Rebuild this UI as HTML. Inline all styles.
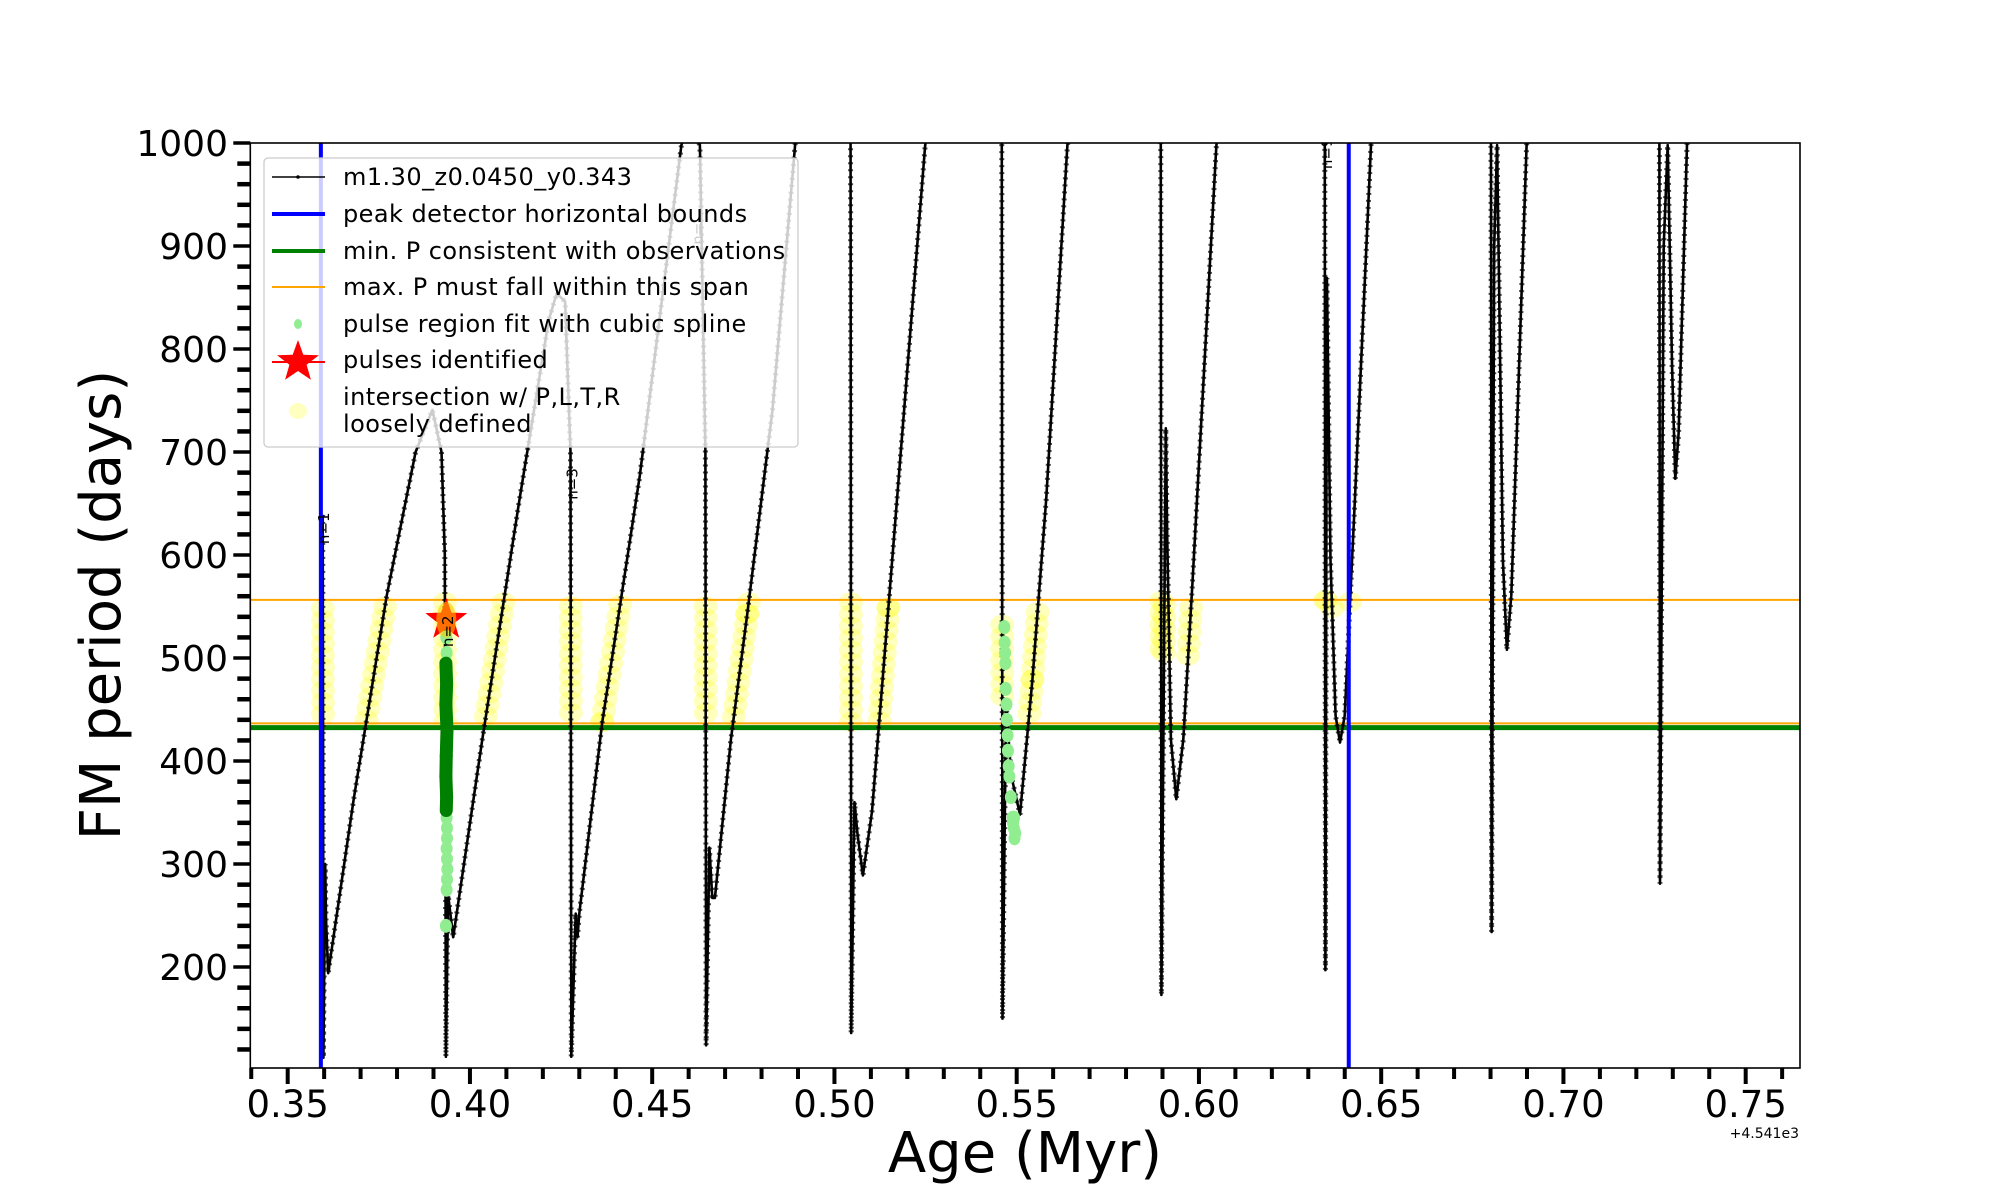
<!DOCTYPE html>
<html><head><meta charset="utf-8"><style>
html,body{margin:0;padding:0;background:#fff;}
svg{display:block;font-family:"DejaVu Sans","Liberation Sans",sans-serif;}
</style></head><body>
<svg id="chart" width="2000" height="1200" viewBox="0 0 2000 1200" xmlns="http://www.w3.org/2000/svg">
<defs><clipPath id="plotclip"><rect x="250" y="143" width="1550" height="925"/></clipPath></defs>
<rect x="0" y="0" width="2000" height="1200" fill="#fff"/>
<g id="plot" clip-path="url(#plotclip)"></g>
<g id="axes"></g>
<g id="legend"></g>
</svg>
<script>
const curveAge = [0.3596,0.3597,0.3598,0.3603,0.3605,0.3611,0.3681,0.3772,0.3851,0.3897,0.3922,0.3931,0.3934,
0.3940,0.3954,0.4034,0.4136,0.4216,0.4238,0.4261,0.4276,0.4278,
0.4290,0.4295,0.4300,0.4363,0.4466,0.4580,0.4600,0.4631,0.4646,0.4648,
0.4657,0.4665,0.4672,0.4716,0.4761,0.4830,0.4892,0.4920,0.5044,0.5046,
0.5055,0.5063,0.5078,0.5103,0.5148,0.5249,0.5300,0.5459,0.5461,
0.5471,0.5485,0.5509,0.5543,0.5581,0.5639,0.5700,0.5895,0.5897,
0.5909,0.5913,0.5923,0.5938,0.5957,0.5982,0.6048,0.6100,0.6345,0.6347,
0.6351,0.6361,0.6375,0.6387,0.6400,0.6428,0.6472,0.6500,0.6801,0.6803,
0.6810,0.6818,0.6834,0.6845,0.6857,0.6899,0.6950,0.7263,0.7265,
0.7275,0.7286,0.7298,0.7307,0.7316,0.7339,0.7360];
const curvePeriod = [639,400,112,300,247,194,363,561,700,741,700,601,113,
270,229,421,654,828,854,846,700,113,
252,229,252,438,677,998,1020,998,700,124,
316,267,267,421,543,741,998,1100,1100,136,
360,330,289,351,549,998,1100,1100,150,
456,386,348,479,654,998,1100,1100,173,
723,619,421,363,421,572,998,1100,1100,197,
869,595,444,418,444,654,998,1100,1100,234,
900,998,595,508,561,998,1100,1100,281,
900,998,782,674,718,998,1100];
const blobAgeLo = [0.355,0.3925,0.427,0.463,0.503,0.545,0.552,0.589,0.596,0.634];
const blobAgeHi = [0.380,0.410,0.442,0.478,0.517,0.5475,0.557,0.5915,0.600,0.642];
const blobPLo = [437,437,437,437,437,460,440,500,495,545];
const blobPHi = [557,557,557,557,557,540,555,557,557,557];
const blueBounds = [0.3591,0.6411];
const orangeSpan = [556.5,436.6];
const minP = [432.5];
const darkGreenAge = [0.3934,0.3936,0.3934,0.3937,0.3935,0.3934,0.3936,0.3935];
const darkGreenP = [495,475,455,430,405,385,365,352];
const lightGreenAge = [0.3935,0.3936,0.3936,0.3937,0.3937,0.3936,0.3937,0.3938,0.3937,0.3936,0.3934,0.5466,0.5467,0.5468,0.5469,0.5470,0.5472,0.5473,0.5475,0.5476,0.5478,0.5480,0.5484,0.5489,0.5492,0.5494,0.5496,0.5493,0.5490];
const lightGreenP = [520,505,345,335,325,315,305,295,285,275,240,530,515,505,495,470,455,440,425,410,395,385,365,345,335,325,330,345,340];
const starAge = [0.3935];
const starP = [537];
const nLabels = ['n=1','n=2','n=3','n=','n=9'];
const nLabelAge = [0.3613,0.3954,0.4295,0.4640,0.6365];
const nLabelP = [626,526,669,912,990];
const xTicks = [0.35,0.40,0.45,0.50,0.55,0.60,0.65,0.70,0.75];
const xTickLabels = ['0.35','0.40','0.45','0.50','0.55','0.60','0.65','0.70','0.75'];
const yTicks = [200,300,400,500,600,700,800,900,1000];
const yTickLabels = ['200','300','400','500','600','700','800','900','1000'];

const X0=250.3,X1=1800,Y0=143,Y1=1068;
const xmin=0.33974,xmax=0.7649,ymin=102,ymax=1000;
const xs=v=>X0+(v-xmin)/(xmax-xmin)*(X1-X0);
const ys=v=>Y1-(v-ymin)/(ymax-ymin)*(Y1-Y0);
const NS='http://www.w3.org/2000/svg';
function mk(tag,attrs,parent){const e=document.createElementNS(NS,tag);for(const k in attrs)e.setAttribute(k,attrs[k]);parent.appendChild(e);return e;}
const plot=document.getElementById('plot'),axes=document.getElementById('axes'),leg=document.getElementById('legend');

const yb=mk('g',{},plot);


for(let i=0;i<curveAge.length-1;i++){
  const a0=curveAge[i],a1=curveAge[i+1],p0=curvePeriod[i],p1=curvePeriod[i+1];
  const ax=xs(a0),ay=ys(p0),bx=xs(a1),by=ys(p1);
  const len=Math.hypot(bx-ax,by-ay),n=Math.max(1,Math.ceil(len/12));
  for(let k=0;k<=n;k++){const t=k/n,ag=a0+(a1-a0)*t,pp=p0+(p1-p0)*t;
    for(let r=0;r<blobAgeLo.length;r++){
      if(ag>=blobAgeLo[r]&&ag<=blobAgeHi[r]&&pp>=blobPLo[r]&&pp<=blobPHi[r]){
        const c=mk('ellipse',{cx:xs(ag),cy:ys(pp),rx:12,ry:10,fill:'rgba(255,255,40,0.3)'},yb);
        
        
        break;
      }}
  }
}
orangeSpan.forEach(v=>{const l=mk('line',{x1:X0,x2:X1,y1:ys(v),y2:ys(v),stroke:'#ffa500','stroke-width':2},plot);

});
minP.forEach(v=>{const l=mk('line',{x1:X0,x2:X1,y1:ys(v),y2:ys(v),stroke:'#008000','stroke-width':5},plot);

});
let d='';curveAge.forEach((a,i)=>{d+=(i?'L':'M')+xs(a).toFixed(1)+','+ys(curvePeriod[i]).toFixed(1);});
const cv=mk('path',{d:d,fill:'none',stroke:'#000','stroke-width':2.6,'stroke-linejoin':'round'},plot);


const cvd=mk('path',{d:d,fill:'none',stroke:'#000','stroke-width':5,'stroke-dasharray':'2 5',opacity:0.7},plot);


blueBounds.forEach(v=>{const l=mk('line',{x1:xs(v),x2:xs(v),y1:Y0,y2:Y1,stroke:'#0000ff','stroke-width':4},plot);

});
lightGreenAge.forEach((a,i)=>{const c=mk('ellipse',{cx:xs(a),cy:ys(lightGreenP[i]),rx:6,ry:7,fill:'#90ee90'},plot);

});
for(let i=0;i<darkGreenAge.length-1;i++){
  const l=mk('line',{x1:xs(darkGreenAge[i]),y1:ys(darkGreenP[i]),x2:xs(darkGreenAge[i+1]),y2:ys(darkGreenP[i+1]),stroke:'#008000','stroke-width':13,'stroke-linecap':'round'},plot);
  
  
}
function starPts(cx,cy,R,r){let p=[];for(let i=0;i<10;i++){const a=-Math.PI/2+i*Math.PI/5,rr=i%2?r:R;p.push((cx+rr*Math.cos(a)).toFixed(1)+','+(cy+rr*Math.sin(a)).toFixed(1));}return p.join(' ');}
starAge.forEach((a,i)=>{const s=mk('polygon',{points:starPts(xs(a),ys(starP[i]),22,9),fill:'#ff0000'},plot);


const o=mk('ellipse',{cx:xs(a),cy:ys(starP[i]),rx:10,ry:18,fill:'rgba(255,200,0,0.55)'},plot);

});
nLabels.forEach((t,i)=>{const x=xs(nLabelAge[i]),y=ys(nLabelP[i]);
const e=mk('text',{x:x,y:y,'font-size':15,fill:'#000','text-anchor':'middle',transform:`rotate(-90 ${x} ${y})`},plot);e.textContent=t;

});

const fr=mk('rect',{x:X0,y:Y0,width:X1-X0,height:Y1-Y0,fill:'none',stroke:'#000','stroke-width':1.6},axes);


for(let m=34;m<=76;m++){const v=m/100;if(v<xmin||v>xmax)continue;const major=m%5===0;
 const t=mk('line',{x1:xs(v),x2:xs(v),y1:Y1,y2:Y1+(major?16:11),stroke:'#000','stroke-width':4},axes);
 
 }
xTicks.forEach((v,i)=>{const e=mk('text',{x:xs(v),y:1117,'font-size':37,'text-anchor':'middle',fill:'#000'},axes);e.textContent=xTickLabels[i];

});
for(let v=120;v<=1000;v+=20){const major=v%100===0;
 const t=mk('line',{x1:X0,x2:X0-(major?17:13),y1:ys(v),y2:ys(v),stroke:'#000','stroke-width':major?3.5:4.5},axes);
 
 }
yTicks.forEach((v,i)=>{const e=mk('text',{x:228,y:ys(v)+13,'font-size':36,'text-anchor':'end',fill:'#000'},axes);e.textContent=yTickLabels[i];

});
const off=mk('text',{x:1799,y:1138,'font-size':14,'text-anchor':'end',fill:'#000'},axes);off.textContent='+4.541e3';


const xl=mk('text',{x:1025,y:1172,'font-size':56,'text-anchor':'middle',fill:'#000'},axes);xl.textContent='Age (Myr)';


const yl=mk('text',{x:120,y:605,'font-size':56,'text-anchor':'middle',fill:'#000',transform:'rotate(-90 120 605)'},axes);yl.textContent='FM period (days)';



const lb=mk('rect',{x:264,y:158,width:534,height:289,rx:4,fill:'rgba(255,255,255,0.8)',stroke:'#cccccc','stroke-width':1.3},leg);


const entries=[['m1.30_z0.0450_y0.343',177],['peak detector horizontal bounds',214],['min. P consistent with observations',251],['max. P must fall within this span',287],['pulse region fit with cubic spline',324],['pulses identified',360],['intersection w/ P,L,T,R',397],['loosely defined',424]];
entries.forEach(([t,y])=>{const e=mk('text',{x:343,y:y+8,'font-size':24,'letter-spacing':0.45,fill:'#000'},leg);e.textContent=t;

});
const h1=mk('line',{x1:272,x2:325,y1:177,y2:177,stroke:'#000','stroke-width':1.6},leg);

mk('circle',{cx:298,cy:177,r:1.8,fill:'#000'},leg);
const h2=mk('line',{x1:272,x2:325,y1:214,y2:214,stroke:'#0000ff','stroke-width':4},leg);

const h3=mk('line',{x1:272,x2:325,y1:251,y2:251,stroke:'#008000','stroke-width':4},leg);

const h4=mk('line',{x1:272,x2:325,y1:287,y2:287,stroke:'#ffa500','stroke-width':2},leg);

const h5=mk('ellipse',{cx:298,cy:324,rx:4,ry:5,fill:'#90ee90'},leg);

const h6a=mk('line',{x1:272,x2:325,y1:362,y2:362,stroke:'#ff0000','stroke-width':2},leg);

const h6=mk('polygon',{points:starPts(298,362,22,9),fill:'#ff0000'},leg);

const h7=mk('ellipse',{cx:298,cy:411,rx:9,ry:8,fill:'#ffffc0'},leg);

</script>
</body></html>
